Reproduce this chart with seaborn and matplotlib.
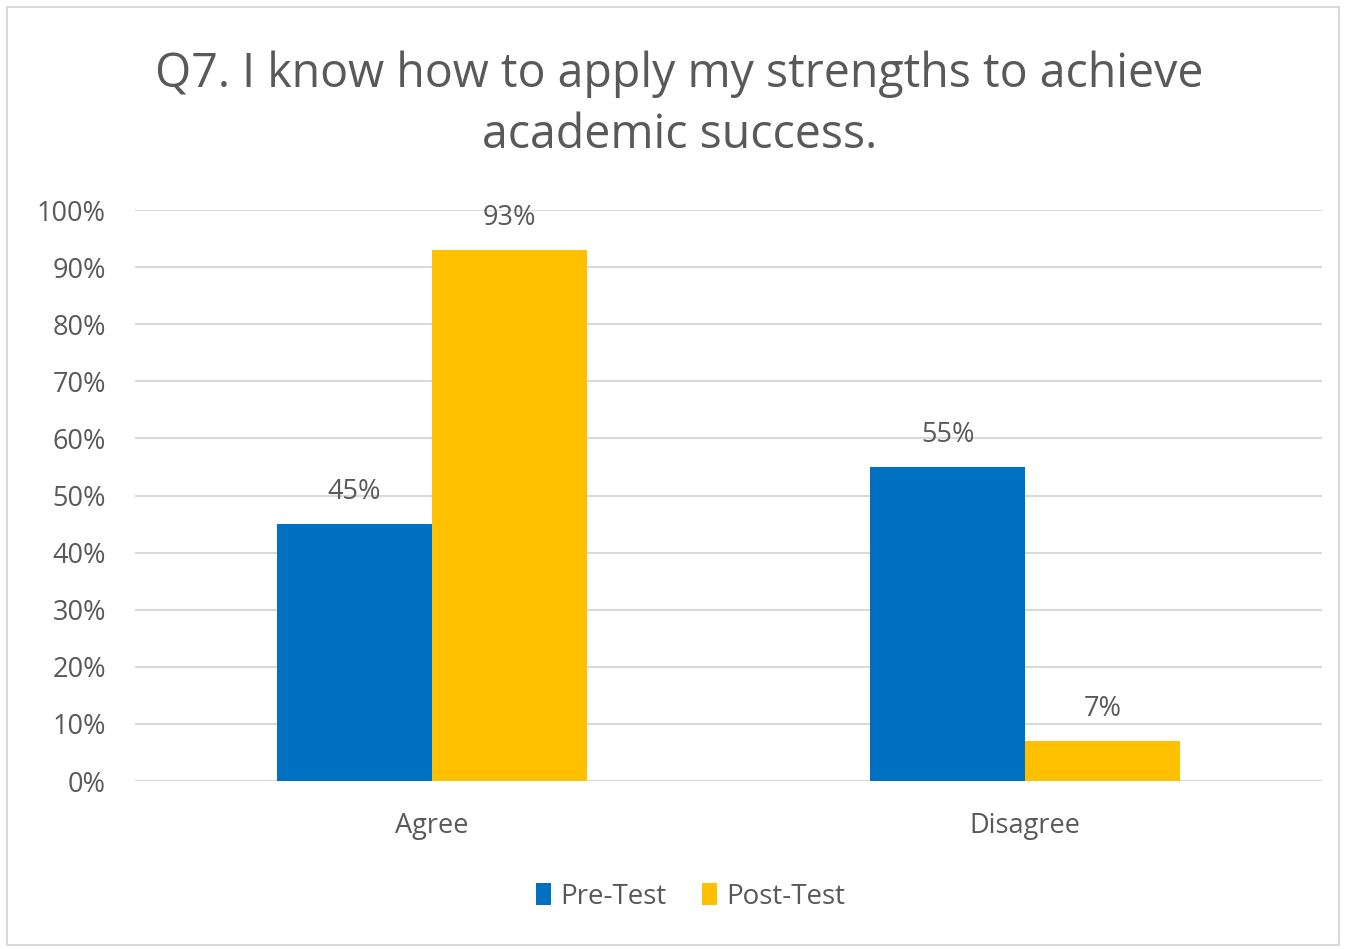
import matplotlib
matplotlib.use("Agg")
import matplotlib.pyplot as plt
from matplotlib.patches import Rectangle, Patch
import seaborn as sns
import pandas as pd

categories = ["Agree", "Disagree"]
series_names = ["Pre-Test", "Post-Test"]
pre_test = [45, 55]
post_test = [93, 7]
y_ticks = [0, 10, 20, 30, 40, 50, 60, 70, 80, 90, 100]
title = "Q7. I know how to apply my strengths to achieve\nacademic success."

colors = {"Pre-Test": "#0070C0", "Post-Test": "#FFC000"}
text_gray = "#595959"
grid_gray = "#D9D9D9"

df = pd.DataFrame({
    "Response": categories * 2,
    "Test": [series_names[0]] * len(categories) + [series_names[1]] * len(categories),
    "Percent": pre_test + post_test,
})

sns.set_theme(style="white")
plt.rcParams["font.family"] = ["Open Sans", "DejaVu Sans"]

fig = plt.figure(figsize=(13.46, 9.49), dpi=100)
ax = fig.add_axes([0.1003, 0.177, 0.8817, 0.6017])

sns.barplot(data=df, x="Response", y="Percent", hue="Test", hue_order=series_names,
            palette=colors, width=0.522, saturation=1, ax=ax, legend=False,
            linewidth=0, errorbar=None)

ax.set_xlim(-0.5, 1.5)
ax.set_ylim(0, 100)
ax.set_yticks(y_ticks)
ax.set_yticklabels([f"{t}%" for t in y_ticks])
ax.yaxis.grid(True, color=grid_gray, linewidth=1.5)
ax.set_axisbelow(True)
for s in ax.spines.values():
    s.set_visible(False)
ax.tick_params(axis="both", length=0, labelsize=19.5, colors=text_gray)
ax.tick_params(axis="y", pad=21)
ax.tick_params(axis="x", pad=22)
ax.set_xlabel("")
ax.set_ylabel("")

for container in ax.containers:
    ax.bar_label(container, labels=[f"{v:.0f}%" for v in container.datavalues],
                 padding=13, fontsize=19.5, color=text_gray)

fig.text(0.505, 0.89, title, ha="center", va="center", fontsize=33.5,
         color=text_gray, linespacing=1.37)

handles = [Patch(facecolor=colors[n], edgecolor="none") for n in series_names]
fig.legend(handles, series_names, loc="center", bbox_to_anchor=(0.513, 0.055),
           ncol=2, frameon=False, fontsize=20, handlelength=0.55, handleheight=0.85,
           handletextpad=0.3, columnspacing=1.3, labelcolor=text_gray)

fig.patches.append(Rectangle((7 / 1346, 4 / 949), 1 - 14 / 1346, 1 - 11 / 949,
                             transform=fig.transFigure, fill=False,
                             edgecolor=grid_gray, linewidth=1.5))

fig.savefig("out.png", dpi=100, facecolor="white")
